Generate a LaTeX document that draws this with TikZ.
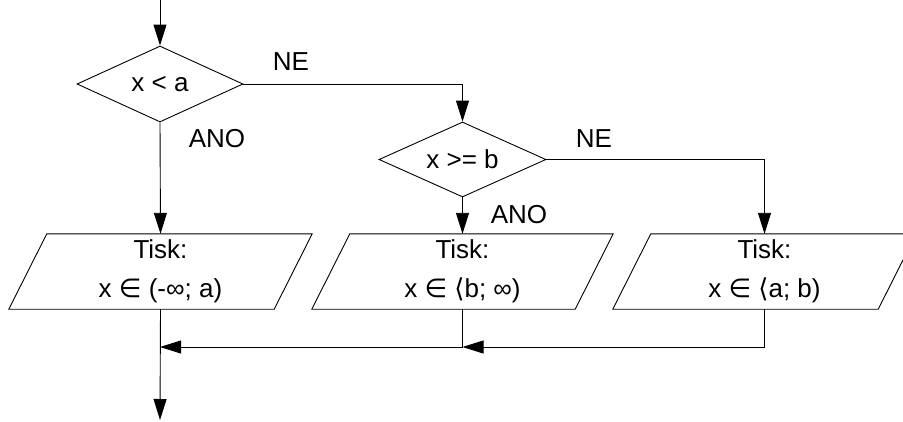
\documentclass[tikz,border=0pt]{standalone}
\usepackage{fontspec}
\setmainfont{Liberation Sans}
\newfontfamily\symf{DejaVu Sans}
\usetikzlibrary{shapes.geometric,arrows.meta,calc}
\tikzset{
  conn/.style={line width=0.9pt},
  arr/.style={conn,-{Triangle[length=21pt,width=13pt]}},
  dec/.style={shape=diamond,draw,line width=0.9pt,minimum width=166pt,minimum height=76pt,inner sep=0pt,aspect=2.2},
  iobox/.style={shape=rectangle,minimum width=265pt,minimum height=75pt,inner sep=0pt,align=center},
  lbl/.style={inner sep=0pt},
}
\newcommand{\paral}[1]{\draw[line width=0.9pt] ([xshift=19pt]#1.north west) -- ([xshift=19pt]#1.north east) -- ([xshift=-19pt]#1.south east) -- ([xshift=-19pt]#1.south west) -- cycle;}
\begin{document}
\begin{tikzpicture}[x=1pt,y=-1pt]
\fontsize{26}{39}\selectfont
\useasboundingbox (0,0) rectangle (903,421);
\node[dec] (d1) at (160,84) {x < a};
\node[dec,minimum width=167pt,minimum height=75pt] (d2) at (462.5,159.5) {x >= b};
\node[iobox] (p1) at (160.5,271.5) {Tisk:\\x {\symf∈} (-∞; a)};
\node[iobox,minimum width=263pt] (p2) at (462.5,271.5) {Tisk:\\x {\symf∈} {\symf⟨}b; ∞)};
\node[iobox] (p3) at (764.5,271.5) {Tisk:\\x {\symf∈} {\symf⟨}a; b)};
\paral{p1}
\paral{p2}
\paral{p3}
\coordinate (start) at (160,0);
\coordinate (j1) at (160,347);
\coordinate (j2) at (462.5,347);
\coordinate (end) at (160,420);
\draw[arr] (start) -- (d1.north);
\draw[arr] (d1.east) -| (d2.north);
\draw[arr] (d1.south) -- (p1.north);
\draw[arr] (d2.south) -- (p2.north);
\draw[arr] (d2.east) -| (p3.north);
\draw[arr] (p3.south) |- (j2);
\draw[conn] (p2.south) -- (j2);
\draw[arr] (j2) -- (j1);
\draw[arr] (p1.south) -- (end);
\node[lbl] (ne1) at (291,62) {NE};
\node[lbl] (ano1) at (217,138.5) {ANO};
\node[lbl] (ne2) at (594,139) {NE};
\node[lbl] (ano2) at (519,215) {ANO};
\end{tikzpicture}
\end{document}
